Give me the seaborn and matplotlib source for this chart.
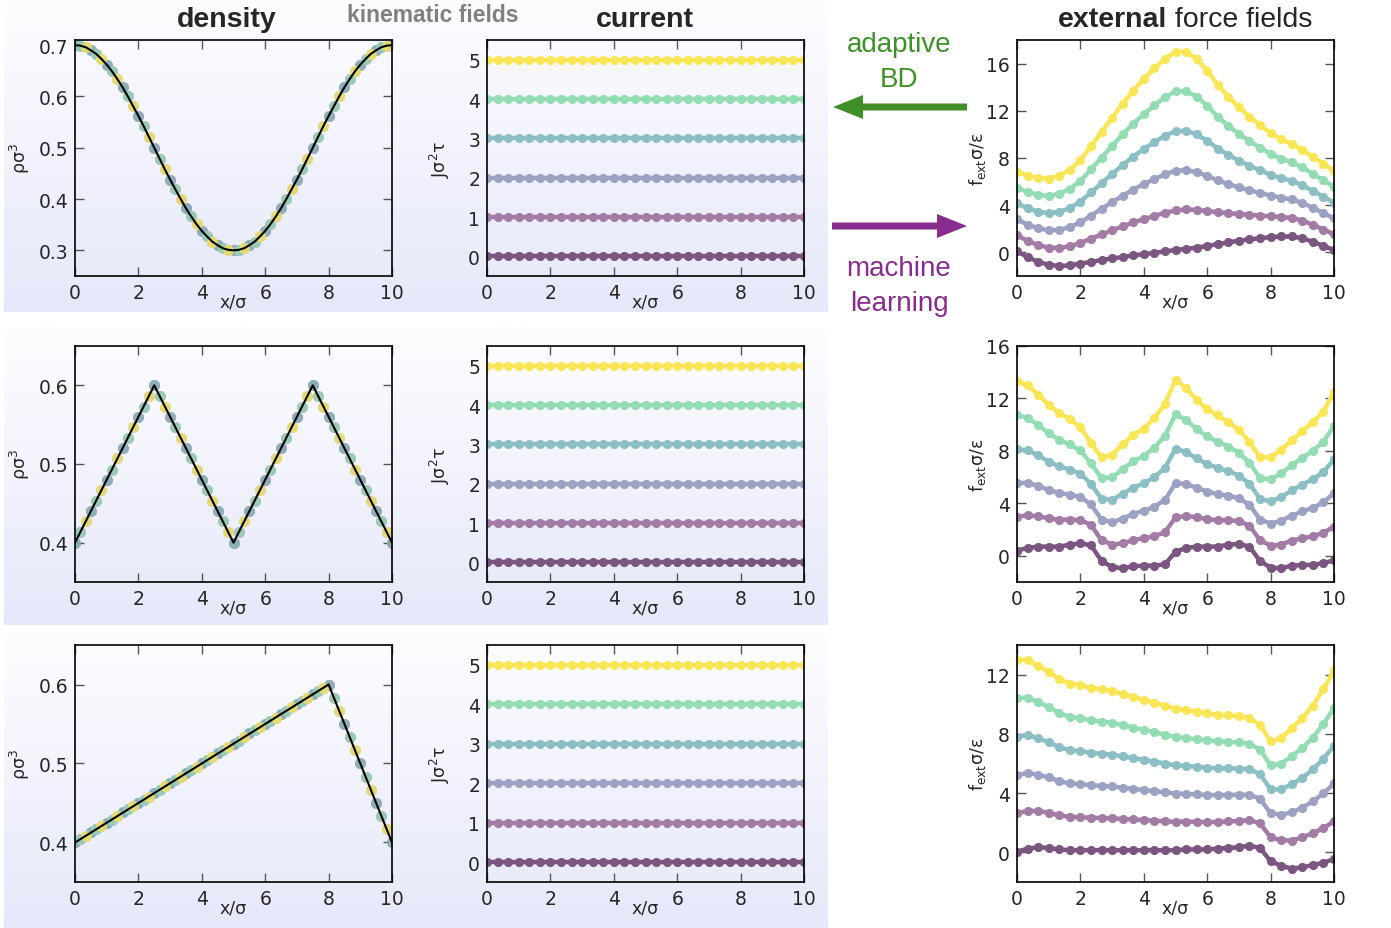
import numpy as np
import pandas as pd
import matplotlib
matplotlib.use("Agg")
import matplotlib.pyplot as plt
from matplotlib.colors import LinearSegmentedColormap
from matplotlib.patches import FancyArrow
import seaborn as sns

W, H = 1391, 929

# sample points of the profiles
x_grid = np.linspace(0, 10, 31)   # current / force profiles
x_fine = np.linspace(0, 10, 61)   # density profiles

# ---- density profiles (target) ----
rho_cos = [0.700, 0.699, 0.696, 0.690, 0.683, 0.673, 0.662, 0.649, 0.634, 0.618, 0.600,
           0.581, 0.562, 0.542, 0.521, 0.500, 0.479, 0.458, 0.438, 0.419, 0.400, 0.382,
           0.366, 0.351, 0.338, 0.327, 0.317, 0.310, 0.304, 0.301, 0.300,
           0.301, 0.304, 0.310, 0.317, 0.327, 0.338, 0.351, 0.366, 0.382, 0.400, 0.419,
           0.438, 0.458, 0.479, 0.500, 0.521, 0.542, 0.562, 0.581, 0.600, 0.618, 0.634,
           0.649, 0.662, 0.673, 0.683, 0.690, 0.696, 0.699, 0.700]
rho_m = [0.400, 0.413, 0.427, 0.440, 0.453, 0.467, 0.480, 0.493, 0.507, 0.520, 0.533,
         0.547, 0.560, 0.573, 0.587, 0.600, 0.587, 0.573, 0.560, 0.547, 0.533, 0.520,
         0.507, 0.493, 0.480, 0.467, 0.453, 0.440, 0.427, 0.413, 0.400,
         0.413, 0.427, 0.440, 0.453, 0.467, 0.480, 0.493, 0.507, 0.520, 0.533, 0.547,
         0.560, 0.573, 0.587, 0.600, 0.587, 0.573, 0.560, 0.547, 0.533, 0.520, 0.507,
         0.493, 0.480, 0.467, 0.453, 0.440, 0.427, 0.413, 0.400]
rho_saw = [0.400, 0.404, 0.408, 0.413, 0.417, 0.421, 0.425, 0.429, 0.433, 0.438, 0.442,
           0.446, 0.450, 0.454, 0.458, 0.463, 0.467, 0.471, 0.475, 0.479, 0.483, 0.488,
           0.492, 0.496, 0.500, 0.504, 0.508, 0.513, 0.517, 0.521, 0.525, 0.529, 0.533,
           0.538, 0.542, 0.546, 0.550, 0.554, 0.558, 0.563, 0.567, 0.571, 0.575, 0.579,
           0.583, 0.588, 0.592, 0.596, 0.600, 0.583, 0.567, 0.550, 0.533, 0.517, 0.500,
           0.483, 0.467, 0.450, 0.433, 0.417, 0.400]
# corners of the piecewise linear targets
rho_m_vx = [0, 2.5, 5, 7.5, 10]
rho_m_vy = [0.4, 0.6, 0.4, 0.6, 0.4]
rho_saw_vx = [0, 8, 10]
rho_saw_vy = [0.4, 0.6, 0.4]

# ---- current levels ----
current_levels = [0, 1, 2, 3, 4, 5]

# ---- external force fields, one list per current level ----
f_cos = [
    [0.1, -0.4, -0.8, -1.05, -1.15, -1.1, -0.95, -0.8, -0.65, -0.5, -0.4, -0.25, -0.15, -0.05, 0.1, 0.2,
     0.3, 0.4, 0.55, 0.7, 0.85, 1.0, 1.1, 1.2, 1.3, 1.35, 1.35, 1.2, 0.9, 0.55, 0.2],
    [1.45, 0.98, 0.62, 0.41, 0.38, 0.52, 0.8, 1.16, 1.52, 1.88, 2.2, 2.54, 2.82, 3.08, 3.36, 3.56,
     3.64, 3.6, 3.52, 3.4, 3.32, 3.26, 3.18, 3.12, 3.06, 3.0, 2.92, 2.7, 2.34, 1.94, 1.54],
    [2.8, 2.36, 2.04, 1.87, 1.91, 2.14, 2.55, 3.12, 3.69, 4.26, 4.8, 5.33, 5.79, 6.21, 6.62, 6.92,
     6.98, 6.8, 6.49, 6.1, 5.79, 5.52, 5.26, 5.04, 4.82, 4.65, 4.49, 4.2, 3.78, 3.33, 2.88],
    [4.15, 3.74, 3.46, 3.33, 3.44, 3.76, 4.3, 5.08, 5.86, 6.64, 7.4, 8.12, 8.76, 9.34, 9.88, 10.28,
     10.32, 10.0, 9.46, 8.8, 8.26, 7.78, 7.34, 6.96, 6.58, 6.3, 6.06, 5.7, 5.22, 4.72, 4.22],
    [5.5, 5.12, 4.88, 4.79, 4.97, 5.38, 6.05, 7.04, 8.03, 9.02, 10.0, 10.91, 11.73, 12.47, 13.14, 13.64,
     13.66, 13.2, 12.43, 11.5, 10.73, 10.04, 9.42, 8.88, 8.34, 7.95, 7.63, 7.2, 6.66, 6.11, 5.56],
    [6.85, 6.5, 6.3, 6.25, 6.5, 7.0, 7.8, 9.0, 10.2, 11.4, 12.6, 13.7, 14.7, 15.6, 16.4, 17.0,
     17.0, 16.4, 15.4, 14.2, 13.2, 12.3, 11.5, 10.8, 10.1, 9.6, 9.2, 8.7, 8.1, 7.5, 6.9],
]
f_m = [
    [0.4, 0.6, 0.7, 0.7, 0.7, 0.85, 0.95, 0.8, -0.4, -0.85, -0.95, -0.8, -0.75, -0.75, -0.65, 0.3,
     0.6, 0.7, 0.7, 0.7, 0.85, 0.9, 0.7, -0.4, -0.9, -0.95, -0.75, -0.7, -0.7, -0.55, -0.35],
    [2.98, 3.08, 3.02, 2.86, 2.74, 2.76, 2.72, 2.36, 1.18, 0.86, 0.94, 1.2, 1.34, 1.5, 1.8, 2.92,
     3.04, 2.94, 2.8, 2.7, 2.72, 2.64, 2.3, 1.18, 0.78, 0.86, 1.16, 1.34, 1.48, 1.76, 2.22],
    [5.56, 5.56, 5.34, 5.02, 4.78, 4.67, 4.49, 3.92, 2.76, 2.57, 2.83, 3.2, 3.43, 3.75, 4.25, 5.54,
     5.48, 5.18, 4.9, 4.7, 4.59, 4.38, 3.9, 2.76, 2.46, 2.67, 3.07, 3.38, 3.66, 4.07, 4.79],
    [8.14, 8.04, 7.66, 7.18, 6.82, 6.58, 6.26, 5.48, 4.34, 4.28, 4.72, 5.2, 5.52, 6.0, 6.7, 8.16,
     7.92, 7.42, 7.0, 6.7, 6.46, 6.12, 5.5, 4.34, 4.14, 4.48, 4.98, 5.42, 5.84, 6.38, 7.36],
    [10.72, 10.52, 9.98, 9.34, 8.86, 8.49, 8.03, 7.04, 5.92, 5.99, 6.61, 7.2, 7.61, 8.25, 9.15, 10.78,
     10.36, 9.66, 9.1, 8.7, 8.33, 7.86, 7.1, 5.92, 5.82, 6.29, 6.89, 7.46, 8.02, 8.69, 9.93],
    [13.3, 13.0, 12.3, 11.5, 10.9, 10.4, 9.8, 8.6, 7.5, 7.7, 8.5, 9.2, 9.7, 10.5, 11.6, 13.4,
     12.8, 11.9, 11.2, 10.7, 10.2, 9.6, 8.7, 7.5, 7.5, 8.1, 8.8, 9.5, 10.2, 11.0, 12.5],
]
f_saw = [
    [0.05, 0.25, 0.35, 0.3, 0.2, 0.15, 0.15, 0.15, 0.15, 0.15, 0.15, 0.15, 0.15, 0.15, 0.15, 0.15,
     0.2, 0.2, 0.2, 0.25, 0.3, 0.35, 0.45, 0.3, -0.6, -0.9, -1.1, -1.0, -0.85, -0.7, -0.45],
    [2.64, 2.8, 2.8, 2.68, 2.5, 2.4, 2.38, 2.34, 2.32, 2.3, 2.26, 2.22, 2.18, 2.14, 2.1, 2.06,
     2.08, 2.06, 2.04, 2.06, 2.09, 2.12, 2.17, 1.96, 1.02, 0.82, 0.8, 1.01, 1.3, 1.64, 2.1],
    [5.23, 5.35, 5.25, 5.06, 4.8, 4.65, 4.61, 4.53, 4.49, 4.45, 4.37, 4.29, 4.21, 4.13, 4.05, 3.97,
     3.96, 3.92, 3.88, 3.87, 3.88, 3.89, 3.89, 3.62, 2.64, 2.54, 2.7, 3.02, 3.45, 3.98, 4.65],
    [7.82, 7.9, 7.7, 7.44, 7.1, 6.9, 6.84, 6.72, 6.66, 6.6, 6.48, 6.36, 6.24, 6.12, 6.0, 5.88,
     5.84, 5.78, 5.72, 5.68, 5.67, 5.66, 5.61, 5.28, 4.26, 4.26, 4.6, 5.03, 5.6, 6.32, 7.2],
    [10.41, 10.45, 10.15, 9.82, 9.4, 9.15, 9.07, 8.91, 8.83, 8.75, 8.59, 8.43, 8.27, 8.11, 7.95, 7.79,
     7.72, 7.64, 7.56, 7.49, 7.46, 7.43, 7.33, 6.94, 5.88, 5.98, 6.5, 7.04, 7.75, 8.66, 9.75],
    [13.0, 13.0, 12.6, 12.2, 11.7, 11.4, 11.3, 11.1, 11.0, 10.9, 10.7, 10.5, 10.3, 10.1, 9.9, 9.7,
     9.6, 9.5, 9.4, 9.3, 9.25, 9.2, 9.05, 8.6, 7.5, 7.7, 8.4, 9.05, 9.9, 11.0, 12.3],
]

colors = ["#7b5680", "#a27ca5", "#9ea2c2", "#8bbfc3", "#93dcb4", "#f8e657"]
green = "#40902a"
purple = "#872c8c"

sns.set_theme(style="ticks")
plt.rcParams["font.family"] = ["DejaVu Sans"]

fig = plt.figure(figsize=(W / 100, H / 100), dpi=100)

# background: shaded panels behind the kinematic fields
bg = fig.add_axes([0, 0, 1, 1])
bg.set_zorder(-1)
bg.set_xlim(0, W)
bg.set_ylim(0, H)
bg.axis("off")
shade = LinearSegmentedColormap.from_list("shade", ["#fdfdff", "#e6e8fa"])
grad = np.linspace(0, 1, 200)[:, None]
for top, bottom in [(0, 313), (328, 626), (632, 929)]:
    bg.imshow(grad, cmap=shade, extent=[4, 828, H - bottom, H - top],
              origin="upper", aspect="auto", interpolation="bilinear")

bg.add_patch(FancyArrow(967, H - 108, -134, 0, width=7, head_width=24, head_length=30,
                        length_includes_head=True, color=green, lw=0))
bg.add_patch(FancyArrow(832, H - 227, 135, 0, width=7, head_width=24, head_length=30,
                        length_includes_head=True, color=purple, lw=0))


def px_axes(left, top, right, bottom):
    return fig.add_axes([left / W, 1 - bottom / H, (right - left) / W, (bottom - top) / H])


def long_frame(series):
    parts = [pd.DataFrame({"x": x_grid, "y": vals, "J": k}) for k, vals in enumerate(series)]
    return pd.concat(parts, ignore_index=True)


def draw_profiles(ax, series):
    df = long_frame(series)
    sns.lineplot(data=df, x="x", y="y", hue="J", palette=colors, marker="o",
                 markersize=6.6, markeredgewidth=0, linewidth=3.2, legend=False, ax=ax)


def draw_density(ax, rho, vx, vy):
    rho = np.asarray(rho)
    for k, c in enumerate(colors):
        sns.scatterplot(x=x_fine[k % 3::3], y=rho[k % 3::3], color=c, s=62, linewidth=0,
                        alpha=0.75, ax=ax, zorder=2)
    sns.lineplot(x=vx, y=vy, color="black", linewidth=1.5, ax=ax, zorder=3)


def style(ax, ylim, yticks, ylabel, lab_x):
    ax.set_facecolor("none")
    ax.set_xlim(0, 10)
    ax.set_ylim(*ylim)
    ax.set_xticks(range(0, 11, 2))
    ax.set_yticks(yticks)
    ax.tick_params(direction="in", top=True, right=True, length=6.5, width=1,
                   color="#555555", labelsize=13.5, pad=5)
    for sp in ax.spines.values():
        sp.set_linewidth(1.2)
        sp.set_color("black")
    ax.set_xlabel("x/σ", fontsize=12.5)
    ax.xaxis.set_label_coords(0.5, -0.068)
    ax.set_ylabel(ylabel, fontsize=12.5)
    ax.yaxis.set_label_coords(lab_x, 0.5)


rows = [(41, 277), (347, 583), (646, 883)]
densities = [(rho_cos, x_fine, rho_cos), (rho_m, rho_m_vx, rho_m_vy), (rho_saw, rho_saw_vx, rho_saw_vy)]
forces = [f_cos, f_m, f_saw]
force_lims = [((-2, 18), [0, 4, 8, 12, 16]), ((-2, 16), [0, 4, 8, 12, 16]), ((-2, 14), [0, 4, 8, 12])]
currents = [[[lev] * len(x_grid) for lev in current_levels]] * 3

for r, (top, bottom) in enumerate(rows):
    ax = px_axes(75, top, 392, bottom)
    rho, vx, vy = densities[r]
    draw_density(ax, rho, vx, vy)
    if r == 0:
        style(ax, (0.25, 0.71), [0.3, 0.4, 0.5, 0.6, 0.7], "ρσ$^3$", -0.136)
    else:
        style(ax, (0.35, 0.65), [0.4, 0.5, 0.6], "ρσ$^3$", -0.136)

    ax = px_axes(487, top, 804, bottom)
    draw_profiles(ax, currents[r])
    style(ax, (-0.5, 5.5), [0, 1, 2, 3, 4, 5], "Jσ$^2$τ", -0.11)

    ax = px_axes(1017, top, 1334, bottom)
    draw_profiles(ax, forces[r])
    ylim, yt = force_lims[r]
    style(ax, ylim, yt, "f$_\\mathregular{ext}$σ/ε", -0.091)

# titles and annotations
title_font = dict(family=["Liberation Sans", "DejaVu Sans"], va="center")
fig.text(227 / W, 1 - 20 / H, "density", ha="center", fontsize=20.5, fontweight="bold", **title_font)
fig.text(645 / W, 1 - 20 / H, "current", ha="center", fontsize=20.5, fontweight="bold", **title_font)
fig.text(433 / W, 1 - 16 / H, "kinematic fields", ha="center", fontsize=16.5, fontweight="bold",
         color="#808080", **title_font)
t1 = fig.text(1058 / W, 1 - 20 / H, "external", ha="left", fontsize=20.5, fontweight="bold", **title_font)
renderer = fig.canvas.get_renderer()
bb = t1.get_window_extent(renderer=renderer)
fig.text(bb.x1 / W, 1 - 20 / H, " force fields", ha="left", fontsize=20.5, **title_font)

for txt, y, c in [("adaptive", 45, green), ("BD", 80, green),
                  ("machine", 269, purple), ("learning", 304, purple)]:
    fig.text(899 / W, 1 - y / H, txt, ha="center", fontsize=20, color=c, **title_font)

fig.savefig("out.png", dpi=100)
